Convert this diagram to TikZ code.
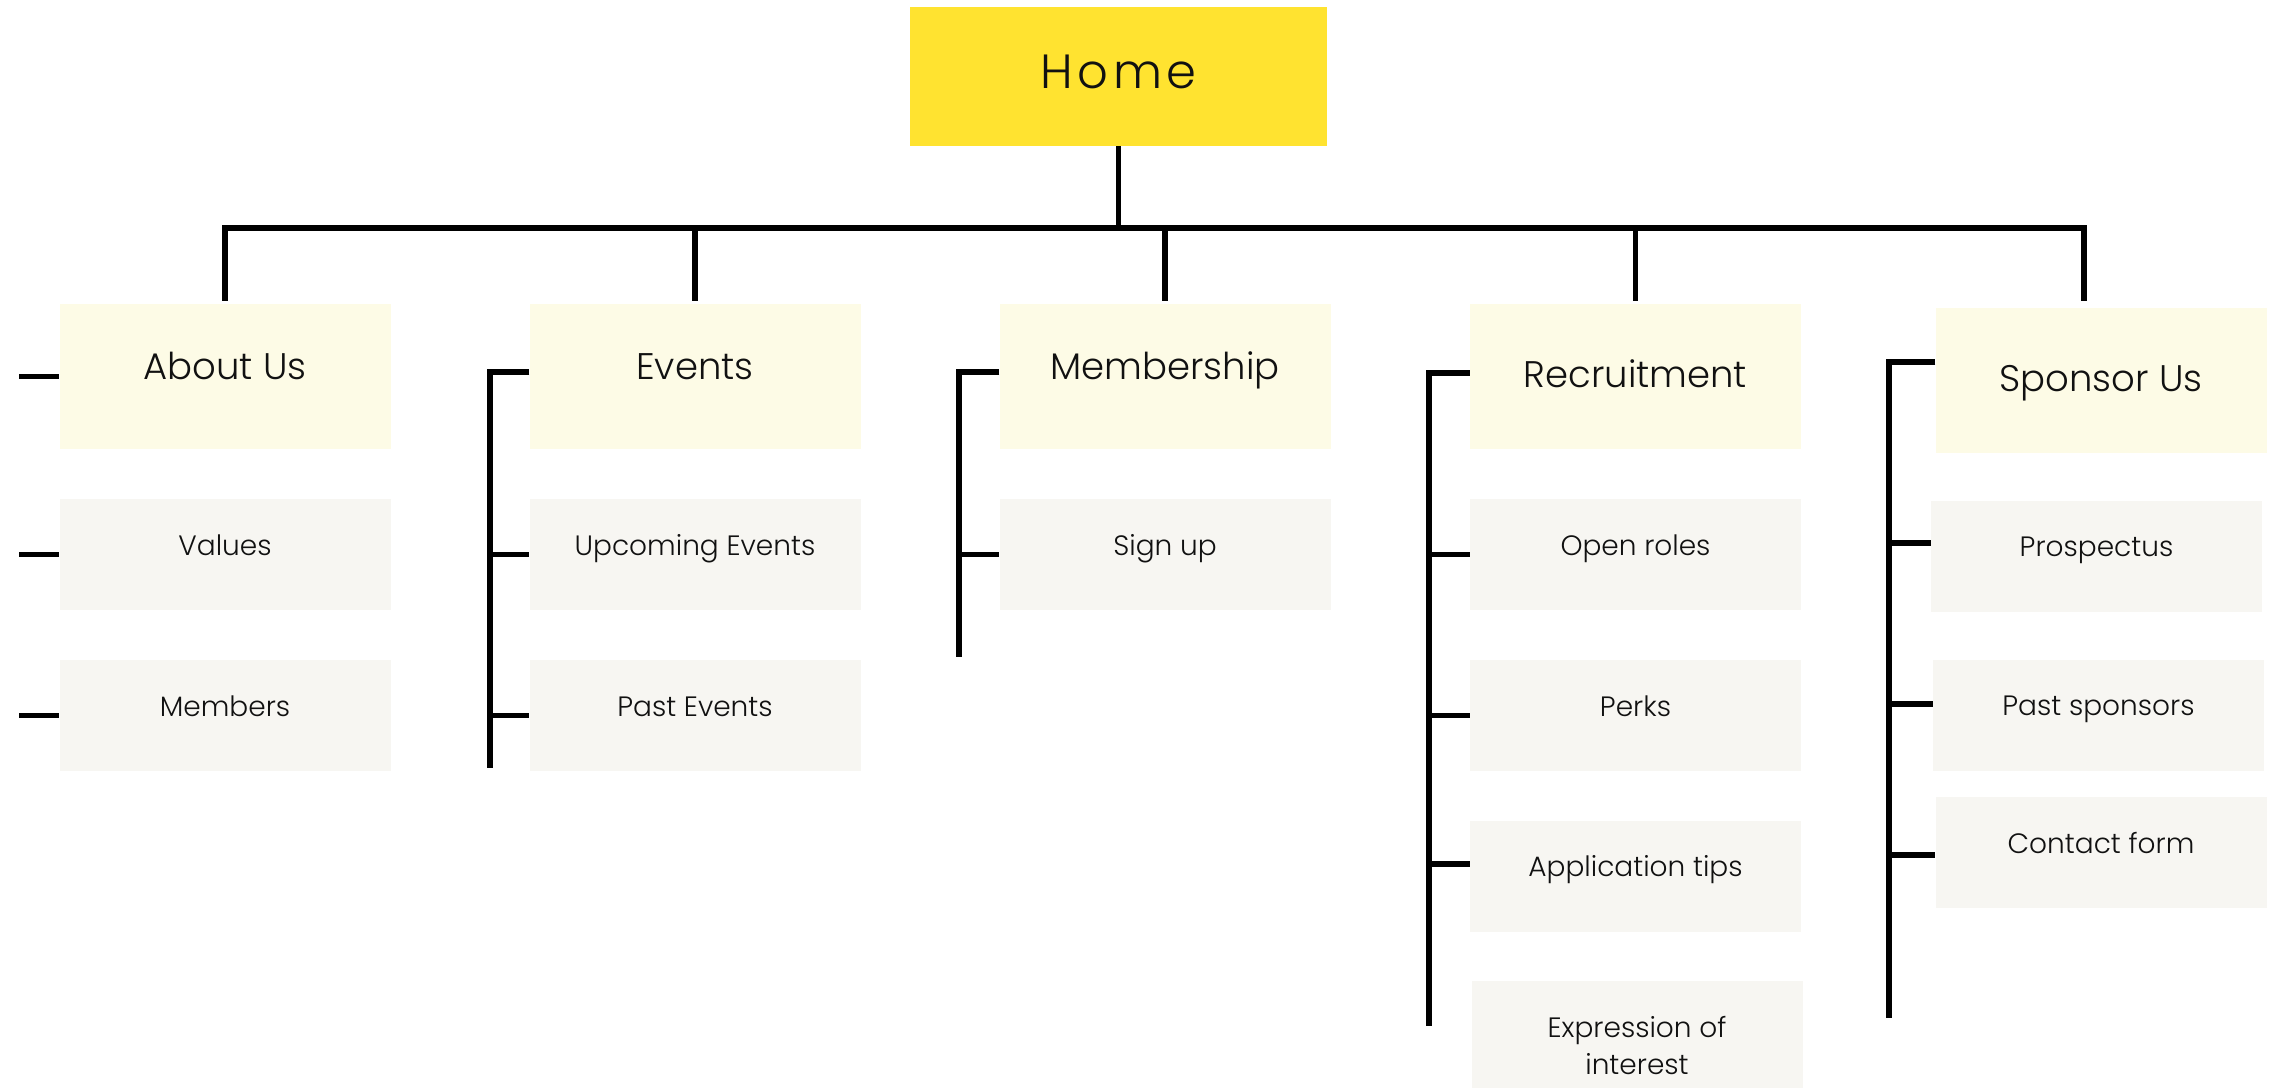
\documentclass[tikz,border=0pt]{standalone}
\usepackage{fontspec}
\IfFontExistsTF{Poppins Light}{%
  \setmainfont{Poppins Light}%
  \newfontfamily\homefont[LetterSpace=10]{Poppins Light}%
}{%
  \setmainfont{Poppins}%
  \newfontfamily\homefont[LetterSpace=10]{Poppins}%
}
\definecolor{homeyellow}{HTML}{FFE330}
\definecolor{creamfill}{HTML}{FDFBE6}
\definecolor{greyfill}{HTML}{F7F6F2}
\definecolor{inktext}{HTML}{111111}
\begin{document}
\begin{tikzpicture}[x=1pt,y=-1pt,
  box/.style={rectangle, inner sep=0pt, text=inktext, anchor=center},
  homebox/.style={box, fill=homeyellow, minimum width=417pt, minimum height=139pt,
    font=\homefont\fontsize{48}{58}\selectfont, text height=33.5pt, text depth=9pt},
  topbox/.style={box, fill=creamfill, minimum width=331pt, minimum height=145pt,
    font=\fontsize{37}{44}\selectfont, text height=25.8pt, text depth=19pt},
  subbox/.style={box, fill=greyfill, minimum width=331pt, minimum height=111pt,
    font=\fontsize{28}{34}\selectfont, text height=19.5pt, text depth=18pt},
  link/.style={line width=5.5pt, draw=black}
]
\useasboundingbox (0,0) rectangle (2275,1088);

% top level
\node[homebox] (home) at (1118.5,76.5) {Home};

% level one
\node[topbox] (about)   at (225,376.5)    {About Us};
\node[topbox] (events)  at (695,376.5)    {Events};
\node[topbox] (member)  at (1165,376.5)   {Membership};
\node[topbox, text depth=3pt] (recruit) at (1635.5,376.5) {Recruitment};
\node[topbox, text depth=4pt] (sponsor) at (2101,380.5)   {Sponsor Us};

% level two
\node[subbox] (values)   at (225,554.5)    {Values};
\node[subbox] (members)  at (225,715.5)    {Members};
\node[subbox] (upcoming) at (695,554.5)    {Upcoming Events};
\node[subbox] (pastev)   at (695,715.5)    {Past Events};
\node[subbox] (signup)   at (1165,554.5)   {Sign up};
\node[subbox] (openr)    at (1635.5,554.5) {Open roles};
\node[subbox] (perks)    at (1635.5,715.5) {Perks};
\node[subbox] (apptips)  at (1635.5,876)   {Application tips};
\node[subbox, minimum height=107pt, font=\fontsize{28}{37}\selectfont,
      text height=5pt, text depth=0pt] (expr) at (1637,1034.5)
      {\begin{tabular}[t]{@{}c@{}}Expression of\\interest\end{tabular}};
\node[subbox] (prosp)    at (2096.5,556)   {Prospectus};
\node[subbox] (pastsp)   at (2098.5,715)   {Past sponsors};
\node[subbox, text depth=17pt] (contact) at (2101,852) {Contact form};

% bus
\coordinate (bus) at (0,228);
\coordinate (spdrop) at (2084,228);
\draw[link] (home.south) -- (home.south |- bus);
\draw[link, shorten <=3pt, shorten >=7pt] (about.north) -- (about.north |- bus) -- (spdrop) -- (spdrop |- sponsor.north);
\draw[link, shorten >=3pt] (events.north |- bus) -- (events.north);
\draw[link, shorten >=3pt] (member.north |- bus) -- (member.north);
\draw[link, shorten >=3pt] (recruit.north |- bus) -- (recruit.north);

% About Us stubs
\coordinate (abx) at (19,0);
\draw[link] (abx |- about.west) -- (about.west);
\draw[link] (abx |- values.west) -- (values.west);
\draw[link] (abx |- members.west) -- (members.west);

% Events bracket
\coordinate (evtop) at (490,372);
\coordinate (evbot) at (490,768);
\draw[link] (evtop -| events.west) -- (evtop) -- (evbot);
\draw[link] (evtop |- upcoming.west) -- (upcoming.west);
\draw[link] (evtop |- pastev.west) -- (pastev.west);

% Membership bracket
\coordinate (metop) at (959,372);
\coordinate (mebot) at (959,657);
\draw[link] (metop -| member.west) -- (metop) -- (mebot);
\draw[link] (metop |- signup.west) -- (signup.west);

% Recruitment bracket
\coordinate (retop) at (1429,373);
\coordinate (rebot) at (1429,1026);
\coordinate (reapp) at (1429,864);
\draw[link] (retop -| recruit.west) -- (retop) -- (rebot);
\draw[link] (retop |- openr.west) -- (openr.west);
\draw[link] (retop |- perks.west) -- (perks.west);
\draw[link] (reapp) -- (reapp -| apptips.west);

% Sponsor bracket
\coordinate (sptop) at (1889,362);
\coordinate (spbot) at (1889,1018);
\coordinate (sppro) at (1889,543);
\coordinate (sppas) at (1889,704);
\coordinate (spcon) at (1889,855);
\draw[link] (sptop -| sponsor.west) -- (sptop) -- (spbot);
\draw[link] (sppro) -- (sppro -| prosp.west);
\draw[link] (sppas) -- (sppas -| pastsp.west);
\draw[link] (spcon) -- (spcon -| contact.west);
\end{tikzpicture}
\end{document}
